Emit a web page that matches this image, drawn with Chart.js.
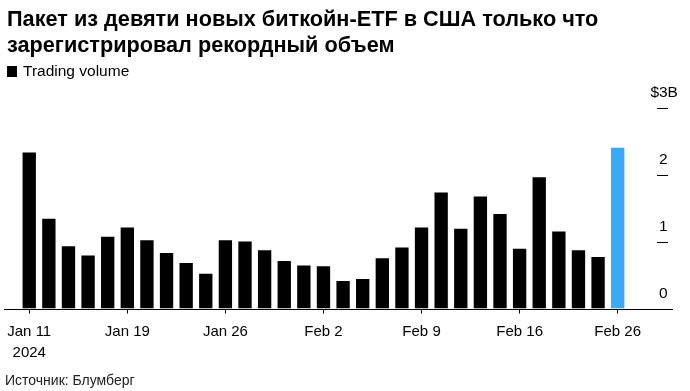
<!DOCTYPE html>
<html>
<head>
<meta charset="utf-8">
<script src="https://cdn.jsdelivr.net/npm/chart.js@4"></script>
<style>
    body { margin: 0; background: #fff; }
    #wrap { width: 690px; height: 391px; position: relative; }
</style>
</head>
<body>
<div id="wrap"><canvas id="etfChart"></canvas></div>
<script>
// Trading days, Jan 11 - Feb 26 2024
const days = [
    'Jan 11', 'Jan 12', 'Jan 16', 'Jan 17', 'Jan 18', 'Jan 19',
    'Jan 22', 'Jan 23', 'Jan 24', 'Jan 25', 'Jan 26',
    'Jan 29', 'Jan 30', 'Jan 31', 'Feb 1', 'Feb 2',
    'Feb 5', 'Feb 6', 'Feb 7', 'Feb 8', 'Feb 9',
    'Feb 12', 'Feb 13', 'Feb 14', 'Feb 15', 'Feb 16',
    'Feb 20', 'Feb 21', 'Feb 22', 'Feb 23', 'Feb 26'
];

// Trading volume, $B
const volume = [
    2.33, 1.34, 0.93, 0.79, 1.07, 1.21,
    1.02, 0.83, 0.68, 0.52, 1.02,
    1.00, 0.87, 0.71, 0.64, 0.63,
    0.41, 0.44, 0.75, 0.91, 1.21,
    1.73, 1.19, 1.67, 1.41, 0.89,
    1.96, 1.15, 0.87, 0.77, 2.40
];

const tickDays = ['Jan 11', 'Jan 19', 'Jan 26', 'Feb 2', 'Feb 9', 'Feb 16', 'Feb 26'];
const yTicks = [0, 1, 2, 3];

const titleLines = [
    'Пакет из девяти новых биткойн-ETF в США только что',
    'зарегистрировал рекордный объем'
];
const legendText = 'Trading volume';
const sourceText = 'Источник: Блумберг';

const FONT = '"Liberation Sans", Arial, sans-serif';
const barColors = volume.map((v, i) => i === volume.length - 1 ? '#38aaf7' : '#000');

// Draws title, legend, source, baseline and the right-hand value labels
const decorPlugin = {
    id: 'decor',
    afterDraw(chart) {
        const ctx = chart.ctx;
        const y = chart.scales.y;
        ctx.save();

        // title
        ctx.fillStyle = '#000';
        ctx.textBaseline = 'alphabetic';
        ctx.textAlign = 'left';
        ctx.font = 'bold 21.7px ' + FONT;
        ctx.fillText(titleLines[0], 7, 26);
        ctx.fillText(titleLines[1], 7, 52);

        // legend
        ctx.fillRect(7, 66, 10, 11);
        ctx.font = '15.5px ' + FONT;
        ctx.textBaseline = 'middle';
        ctx.fillText(legendText, 23, 72);

        // source
        ctx.fillStyle = '#222';
        ctx.font = '14px ' + FONT;
        ctx.fillText(sourceText, 5, 381);

        // baseline
        const y0 = Math.round(y.getPixelForValue(0)) + 0.5;
        ctx.strokeStyle = '#000';
        ctx.lineWidth = 1;
        ctx.beginPath();
        ctx.moveTo(4, y0);
        ctx.lineTo(673, y0);
        ctx.stroke();

        // value labels above short dashes
        ctx.fillStyle = '#000';
        ctx.font = '15.5px ' + FONT;
        yTicks.forEach(v => {
            const py = Math.round(y.getPixelForValue(v)) + 0.5;
            if (v > 0) {
                ctx.beginPath();
                ctx.moveTo(657, py);
                ctx.lineTo(668, py);
                ctx.stroke();
            }
            const isTop = v === yTicks[yTicks.length - 1];
            ctx.textAlign = 'left';
            ctx.fillText(String(v) + (isTop ? 'B' : ''), 659, py - 16);
            if (isTop) {
                ctx.textAlign = 'right';
                ctx.fillText('$', 659, py - 16);
            }
        });

        ctx.restore();
    }
};

const chart = new Chart(document.getElementById('etfChart'), {
    type: 'bar',
    data: {
        labels: days,
        datasets: [{
            label: legendText,
            data: volume,
            backgroundColor: barColors,
            categoryPercentage: 1,
            barPercentage: 0.68
        }]
    },
    options: {
        responsive: true,
        maintainAspectRatio: false,
        animation: false,
        layout: {
            padding: { left: 17.5, right: 62.5, top: 107.5, bottom: 22.5 }
        },
        plugins: {
            legend: { display: false },
            title: { display: false },
            tooltip: { enabled: false }
        },
        scales: {
            x: {
                border: { display: false },
                grid: {
                    offset: false,
                    drawOnChartArea: false,
                    drawTicks: true,
                    tickLength: 5,
                    tickColor: c => tickDays.includes(days[c.index]) ? '#000' : 'rgba(0,0,0,0)'
                },
                ticks: {
                    autoSkip: false,
                    maxRotation: 0,
                    padding: 7,
                    color: '#000',
                    font: { family: FONT, size: 15, lineHeight: 1.45 },
                    callback: function(value, index) {
                        const d = days[index];
                        if (!tickDays.includes(d)) return '';
                        return index === 0 ? [d, '2024'] : d;
                    }
                },
                afterFit(scale) { scale.height = 60; }
            },
            y: {
                display: false,
                min: 0,
                max: 3
            }
        }
    },
    plugins: [decorPlugin]
});
</script>
</body>
</html>
